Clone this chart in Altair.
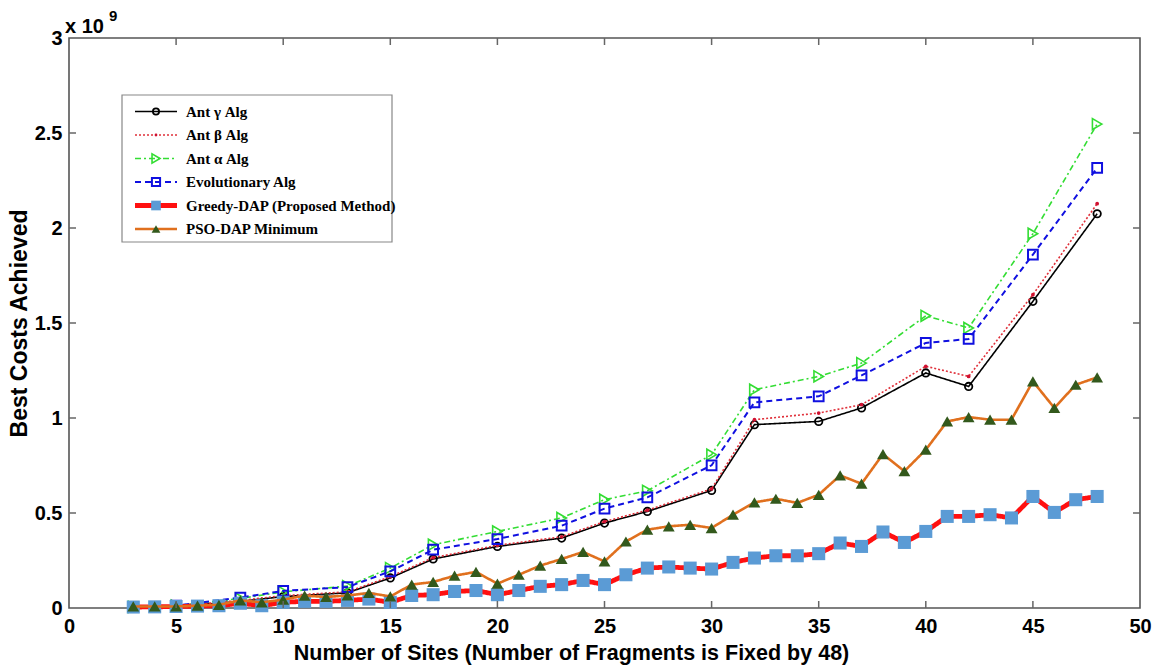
import altair as alt
import pandas as pd

# ---------------- data (costs in units of 1e9) ----------------
x_ant = [3, 5, 8, 10, 13, 15, 17, 20, 23, 25, 27, 30, 32, 35, 37, 40, 42, 45, 48]
ant_gamma = [0.004, 0.008, 0.035, 0.06, 0.08, 0.158, 0.258, 0.324, 0.368, 0.447, 0.508,
             0.619, 0.965, 0.982, 1.053, 1.237, 1.166, 1.614, 2.075]
ant_beta = [0.005, 0.01, 0.04, 0.065, 0.085, 0.165, 0.265, 0.33, 0.375, 0.455, 0.515,
            0.627, 0.991, 1.026, 1.07, 1.272, 1.219, 1.649, 2.128]
ant_alpha = [0.006, 0.012, 0.05, 0.085, 0.115, 0.21, 0.333, 0.403, 0.474, 0.57, 0.617,
             0.807, 1.149, 1.219, 1.289, 1.538, 1.474, 1.97, 2.547]
evolutionary = [0.006, 0.012, 0.055, 0.09, 0.11, 0.193, 0.307, 0.363, 0.433, 0.523, 0.582,
                0.751, 1.082, 1.114, 1.224, 1.395, 1.416, 1.86, 2.316]

x_all = list(range(3, 49))
greedy = [0.005, 0.006, 0.008, 0.01, 0.012, 0.025, 0.012, 0.03, 0.035, 0.035, 0.04,
          0.047, 0.03, 0.066, 0.07, 0.087, 0.092, 0.07, 0.092, 0.114, 0.123, 0.145,
          0.123, 0.175, 0.21, 0.216, 0.21, 0.205, 0.24, 0.263, 0.275, 0.275, 0.286,
          0.342, 0.324, 0.4, 0.345, 0.403, 0.482, 0.482, 0.491, 0.474, 0.587, 0.503,
          0.57, 0.587]
pso = [0.008, 0.008, 0.008, 0.012, 0.017, 0.04, 0.03, 0.044, 0.065, 0.058, 0.066,
       0.079, 0.061, 0.123, 0.137, 0.17, 0.19, 0.128, 0.175, 0.223, 0.258, 0.295,
       0.245, 0.35, 0.412, 0.43, 0.438, 0.421, 0.491, 0.556, 0.575, 0.553, 0.596,
       0.698, 0.654, 0.81, 0.72, 0.833, 0.982, 1.005, 0.991, 0.991, 1.193, 1.053,
       1.175, 1.214]

x_ticks = [0, 5, 10, 15, 20, 25, 30, 35, 40, 45, 50]
y_ticks = [0, 0.5, 1, 1.5, 2, 2.5, 3]

names = ["Ant \u03b3 Alg", "Ant \u03b2 Alg", "Ant \u03b1 Alg", "Evolutionary Alg",
         "Greedy-DAP (Proposed Method)", "PSO-DAP Minimum"]

# ---------------- styles ----------------
W, H = 1071, 570
styles = [
    dict(line="#000000", dash=[1, 0], width=1.6, shape="circle", filled=False,
         mcol="#000000", size=55, mstroke=1.8),
    dict(line="#e0303a", dash=[2, 2], width=1.6, shape="circle", filled=True,
         mcol="#d01030", size=14, mstroke=0),
    dict(line="#33dd33", dash=[6, 3, 2, 3], width=1.6, shape="triangle-right", filled=False,
         mcol="#33dd33", size=120, mstroke=1.6),
    dict(line="#1010e0", dash=[6, 4], width=2.0, shape="square", filled=False,
         mcol="#1010e0", size=95, mstroke=2.0),
    dict(line="#ff1010", dash=[1, 0], width=4.8, shape="square", filled=True,
         mcol="#5b9bd5", size=170, mstroke=0),
    dict(line="#e0701e", dash=[1, 0], width=2.6, shape="triangle-up", filled=True,
         mcol="#33591c", size=140, mstroke=0),
]
series = [(x_ant, ant_gamma), (x_ant, ant_beta), (x_ant, ant_alpha),
          (x_ant, evolutionary), (x_all, greedy), (x_all, pso)]

xs = alt.Scale(domain=[0, 50], nice=False, zero=False)
ys = alt.Scale(domain=[0, 3], nice=False)

FONT = "Liberation Sans"

x_axis = alt.Axis(values=x_ticks, title="Number of Sites (Number of Fragments is Fixed by 48)",
                  grid=False, ticks=False, domain=False, labelFont=FONT, labelFontSize=20,
                  labelFontWeight="bold", labelColor="#000", labelPadding=8,
                  titleFont=FONT, titleFontSize=21.5, titleFontWeight="bold", titleColor="#000",
                  titlePadding=6, titleX=502, labelFlush=False)
y_axis = alt.Axis(values=y_ticks, format="~g", title="Best Costs Achieved", grid=False,
                  ticks=False, domain=False, labelFont=FONT, labelFontSize=20,
                  labelFontWeight="bold", labelColor="#000", labelPadding=7,
                  titleFont=FONT, titleFontSize=23, titleFontWeight="bold", titleColor="#000",
                  titlePadding=3, labelFlush=False)


def X(field):
    return alt.X(field, scale=xs, axis=x_axis)


def Y(field):
    return alt.Y(field, scale=ys, axis=y_axis)


layers = []
for i, ((xv, yv), st) in enumerate(zip(series, styles)):
    df = pd.DataFrame({"x": xv, "y": yv})
    base = alt.Chart(df)
    line = base.mark_line(color=st["line"], strokeDash=st["dash"],
                          strokeWidth=st["width"]).encode(x=X("x:Q"), y=Y("y:Q"))
    if st["filled"]:
        pt = base.mark_point(shape=st["shape"], filled=True, fill=st["mcol"],
                             size=st["size"], opacity=1, strokeWidth=0)
    else:
        pt = base.mark_point(shape=st["shape"], filled=False, stroke=st["mcol"],
                             size=st["size"], opacity=1, strokeWidth=st["mstroke"])
    pt = pt.encode(x=X("x:Q"), y=Y("y:Q"))
    layers += [line, pt]

# inward ticks (bottom/top/left/right) as in the original frame
TICK = 7
tick_col = "#666666"
xt = alt.Chart(pd.DataFrame({"x": x_ticks[1:-1]}))
yt = alt.Chart(pd.DataFrame({"y": y_ticks[1:-1]}))
layers.append(xt.mark_rule(color=tick_col, strokeWidth=1.5).encode(
    x=X("x:Q"), y=alt.value(H), y2=alt.value(H - TICK)))
layers.append(xt.mark_rule(color=tick_col, strokeWidth=1.5).encode(
    x=X("x:Q"), y=alt.value(0), y2=alt.value(TICK)))
layers.append(yt.mark_rule(color=tick_col, strokeWidth=1.5).encode(
    y=Y("y:Q"), x=alt.value(0), x2=alt.value(TICK)))
layers.append(yt.mark_rule(color=tick_col, strokeWidth=1.5).encode(
    y=Y("y:Q"), x=alt.value(W), x2=alt.value(W - TICK)))

# exponent annotation "x 10^9"
one = pd.DataFrame({"k": [0]})
layers.append(alt.Chart(one).mark_text(text="x 10", font=FONT, fontSize=20, fontWeight="bold",
                                       align="left", baseline="middle", color="#000").encode(
    x=alt.value(-4), y=alt.value(-11)))
layers.append(alt.Chart(one).mark_text(text="9", font=FONT, fontSize=15, fontWeight="bold",
                                       align="left", baseline="middle", color="#000").encode(
    x=alt.value(40), y=alt.value(-22)))

# legend box
LX0, LX1, LY0, LY1 = 53, 323, 57, 204
layers.append(alt.Chart(one).mark_rect(fill="white", stroke="#888888", strokeWidth=1.2).encode(
    x=alt.value(LX0), x2=alt.value(LX1), y=alt.value(LY0), y2=alt.value(LY1)))
ROW0, STEP = 73.5, 23.5
for i, (nm, st) in enumerate(zip(names, styles)):
    ry = ROW0 + i * STEP
    layers.append(alt.Chart(one).mark_rule(color=st["line"], strokeDash=st["dash"],
                                           strokeWidth=st["width"]).encode(
        x=alt.value(66), x2=alt.value(108), y=alt.value(ry)))
    if st["filled"]:
        m = alt.Chart(one).mark_point(shape=st["shape"], filled=True, fill=st["mcol"],
                                      size=st["size"] * 0.55, opacity=1, strokeWidth=0)
    else:
        m = alt.Chart(one).mark_point(shape=st["shape"], filled=False, stroke=st["mcol"],
                                      size=st["size"] * 0.7, opacity=1,
                                      strokeWidth=st["mstroke"])
    layers.append(m.encode(x=alt.value(87), y=alt.value(ry)))
    layers.append(alt.Chart(one).mark_text(text=nm, font="Liberation Serif", fontSize=15,
                                           fontWeight="bold", align="left",
                                           baseline="middle", color="#000").encode(
        x=alt.value(117), y=alt.value(ry)))

chart = alt.layer(*layers).properties(
    width=W, height=H,
    padding={"left": 69, "top": 38, "right": 14, "bottom": 59},
    autosize=alt.AutoSizeParams(type="none"),
    background="white",
).configure_view(stroke="#555555", strokeWidth=1.6)

chart.save("out.html", embed_options={"renderer": "svg", "actions": False})
